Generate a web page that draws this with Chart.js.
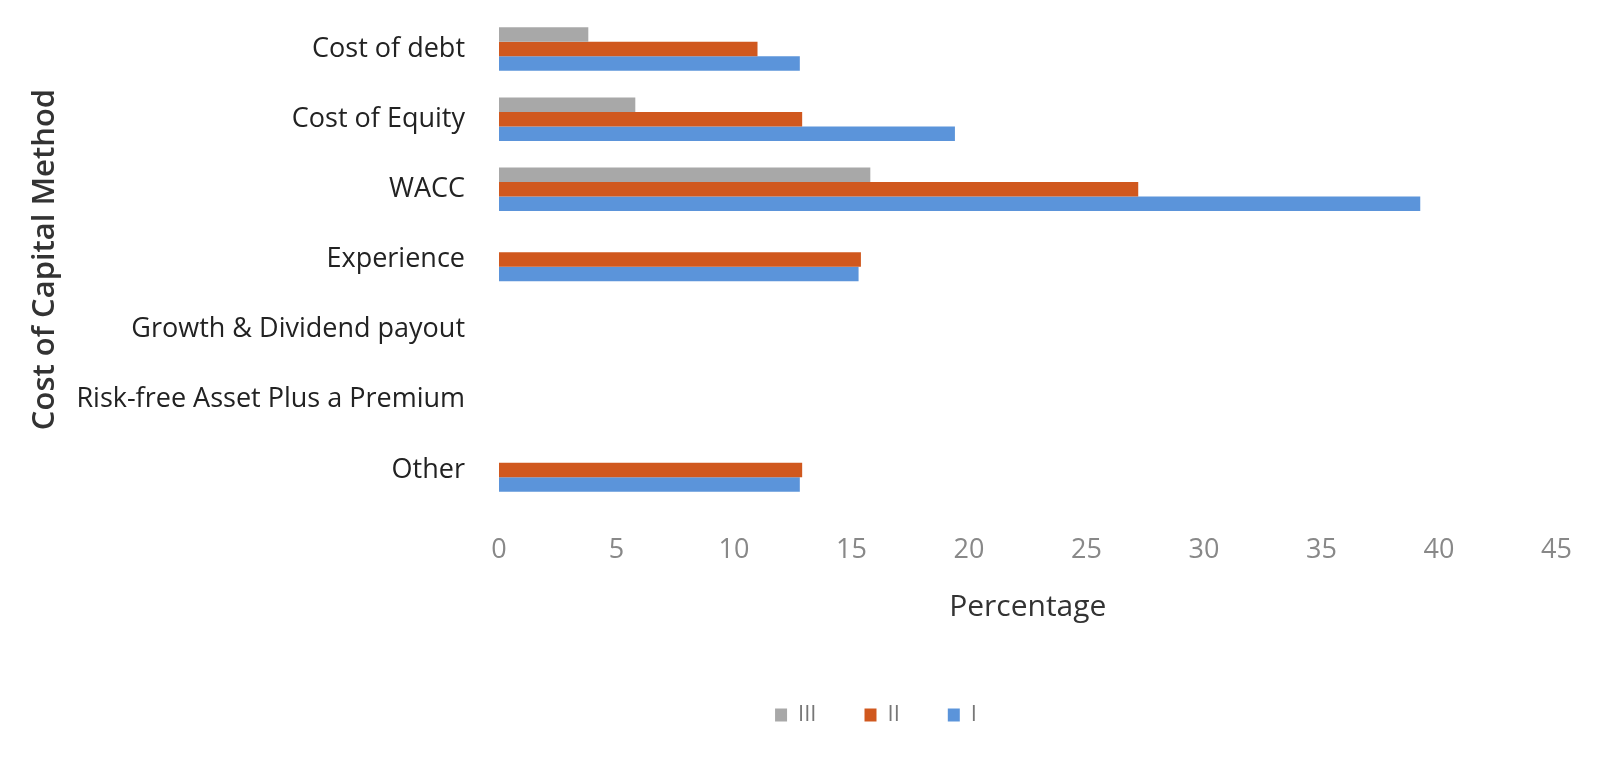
<!DOCTYPE html>
<html>
<head>
<meta charset="utf-8">
<title>Cost of Capital Method</title>
<script src="https://cdn.jsdelivr.net/npm/chart.js@4"></script>
<style>
  html, body { margin: 0; padding: 0; background: #fff; }
  canvas { display: block; }
</style>
</head>
<body>
<canvas id="methodChart" width="1601" height="764"></canvas>
<script>
const categories = [
  'Cost of debt',
  'Cost of Equity',
  'WACC',
  'Experience',
  'Growth & Dividend payout',
  'Risk-free Asset Plus a Premium',
  'Other'
];
const seriesNames = ['III', 'II', 'I'];
const seriesIII = [3.8, 5.8, 15.8, 0, 0, 0, 0];
const seriesII = [11, 12.9, 27.2, 15.4, 0, 0, 12.9];
const seriesI = [12.8, 19.4, 39.2, 15.3, 0, 0, 12.8];
const colors = ['#A8A8A8', '#D0581E', '#5B94DA'];

const ctx = document.getElementById('methodChart').getContext('2d');

// the legend in the original sits right of the page centre
const legendShift = {
  id: 'legendShift',
  afterLayout(c) {
    c.legend.left += 189;
  }
};

const chart = new Chart(ctx, {
  type: 'bar',
  data: {
    labels: categories,
    datasets: [seriesIII, seriesII, seriesI].map((values, i) => ({
      label: seriesNames[i],
      data: values,
      backgroundColor: colors[i],
      borderWidth: 0,
      barPercentage: 1,
      categoryPercentage: 0.62
    }))
  },
  options: {
    indexAxis: 'y',
    responsive: false,
    animation: false,
    layout: { padding: { top: 14, right: 38, bottom: 28, left: 0 } },
    plugins: {
      tooltip: { enabled: false },
      legend: {
        position: 'bottom',
        labels: {
          boxWidth: 12,
          boxHeight: 13,
          padding: 48,
          color: '#777',
          font: { family: 'Open Sans', size: 22 }
        }
      }
    },
    scales: {
      x: {
        min: 0,
        max: 45,
        grid: { display: false, drawTicks: false },
        border: { display: false },
        ticks: {
          stepSize: 5,
          padding: 29,
          color: '#888',
          font: { family: 'Open Sans', size: 27 }
        },
        title: {
          display: true,
          text: 'Percentage',
          color: '#333',
          padding: { top: 0, bottom: 31 },
          font: { family: 'Open Sans', size: 30 }
        },
        afterFit: (scale) => { scale.height = 151; }
      },
      y: {
        grid: { display: false, drawTicks: false },
        border: { display: false },
        ticks: {
          padding: 34,
          color: '#222',
          font: { family: 'Open Sans', size: 27 }
        },
        title: {
          display: true,
          text: 'Cost of Capital Method',
          color: '#333',
          padding: { top: 27, bottom: 0 },
          font: { family: 'Open Sans', size: 31, weight: '600' }
        },
        afterFit: (scale) => {
          scale.width = 499;
          scale.paddingTop = 0;
          scale.paddingBottom = 0;
        }
      }
    }
  },
  plugins: [legendShift]
});
</script>
</body>
</html>
